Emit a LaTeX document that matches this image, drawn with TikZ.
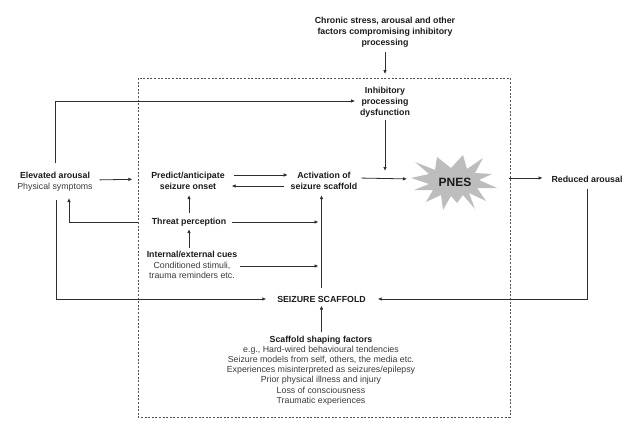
\documentclass[tikz,border=0pt]{standalone}
\usepackage{fontspec}
\setmainfont{Liberation Sans}
\usetikzlibrary{arrows.meta}
\definecolor{txtcol}{HTML}{1A1A1A}
\definecolor{regcol}{HTML}{3A3A3A}
\definecolor{lncol}{HTML}{2E2E2E}
\definecolor{boxcol}{HTML}{555555}
\definecolor{starfill}{HTML}{BDBDBD}
\begin{document}
\begin{tikzpicture}[x=1pt,y=-1pt,
  every node/.style={inner sep=0pt, outer sep=0pt, align=center, text=txtcol,
    font=\fontsize{8.8}{10.8}\selectfont},
  ttl/.style={font=\fontsize{8.8}{10.8}\selectfont\bfseries},
  lst/.style={font=\fontsize{8.8}{10.2}\selectfont},
  arr/.style={draw=lncol, line width=0.8pt, -{Latex[length=4pt,width=3.6pt]}},
  boxst/.style={draw=boxcol, line width=0.6pt, dash pattern=on 2pt off 1.6pt}]
\useasboundingbox (0,0) rectangle (637,433);

% dashed frame
\draw[boxst] (138,78) rectangle (510,417);

% nodes
\node[ttl] (chronic) at (385,32) {Chronic stress, arousal and other\\factors compromising inhibitory\\processing};
\node[ttl] (inhib) at (385,102) {Inhibitory\\processing\\dysfunction};
\node (elev) at (55,182) {\textbf{Elevated arousal}\\\color{regcol}Physical symptoms};
\node[ttl] (predict) at (188,181) {Predict/anticipate\\seizure onset};
\node[ttl] (act) at (324,181) {Activation of\\seizure scaffold};
\node[ttl] (threat) at (189,222) {Threat perception};
\node (cues) at (192,265) {\textbf{Internal/external cues}\\\color{regcol}Conditioned stimuli,\\\color{regcol}trauma reminders etc.};
\node[ttl] (seiz) at (321.5,299) {SEIZURE SCAFFOLD};
\node[lst] (factors) at (321,370.5) {\textbf{Scaffold shaping factors}\\
  \color{regcol}e.g., Hard-wired behavioural tendencies\\
  \color{regcol}Seizure models from self, others, the media etc.\\
  \color{regcol}Experiences misinterpreted as seizures/epilepsy\\
  \color{regcol}Prior physical illness and injury\\
  \color{regcol}Loss of consciousness\\
  \color{regcol}Traumatic experiences};
\node[ttl] (red) at (587,179) {Reduced arousal};

% PNES starburst
\coordinate (pc) at (455,182);
\begin{scope}[shift={(pc)}]
\fill[starfill] (-40,-20) -- (-20,-12) -- (-18,-25) -- (-4,-14) -- (8,-27) -- (12,-13)
  -- (28,-24) -- (20,-9) -- (37,-8) -- (24,-2) -- (42,6) -- (22,6) -- (31,19)
  -- (14,11) -- (20,27) -- (8,13) -- (2,21) -- (-4,14) -- (-12,28) -- (-14,13)
  -- (-29,20) -- (-22,8) -- (-41,8) -- (-26,2) -- (-44,-4) -- (-26,-8) -- cycle;
\end{scope}
\node[font=\fontsize{12}{14}\selectfont\bfseries, minimum width=84pt, minimum height=54pt] (pnes) at (pc) {PNES};

% connectors
\draw[arr, shorten <=5pt, shorten >=13pt] (chronic.south) -- (inhib.north);
\draw[arr, shorten >=5pt] ([yshift=9pt]elev.north) |- ([yshift=1pt]inhib.west);
\draw[arr, shorten <=7pt, shorten >=19pt] ([yshift=2pt]elev.east) -- ([yshift=2pt]predict.west);
\draw[arr, shorten <=9pt, shorten >=3pt] ([yshift=6pt]predict.east) -- ([yshift=6pt]act.west);
\draw[arr, shorten <=7pt, shorten >=7pt] ([yshift=-5pt]act.west) -- ([yshift=-5pt]predict.east);
\draw[arr, shorten <=4.5pt, shorten >=5.5pt] (threat.north) -- (threat.north |- predict.south);
\draw[arr, shorten <=3pt, shorten >=3pt] (threat.south |- cues.north) -- (threat.south);
\draw[arr, shorten <=6pt, shorten >=3pt] (threat.east) -- (threat.east -| seiz.north);
\draw[arr, shorten <=3pt, shorten >=3pt] ([yshift=-1pt]cues.east) -- ([yshift=-1pt]cues.east -| seiz.north);
\draw[arr, shorten <=7.5pt, shorten >=5.5pt] (seiz.north) -- (seiz.north |- act.south);
\draw[arr, shorten <=3.5pt, shorten >=3.5pt] (seiz.south |- factors.north) -- (seiz.south);
\draw[arr, shorten <=4pt, shorten >=6pt] ([yshift=3pt]act.east) -- ([yshift=3pt]pnes.west);
\draw[arr, shorten <=3pt, shorten >=10pt] (inhib.south) -- (inhib.south |- act.east);
\draw[arr, shorten <=12pt, shorten >=9pt] ([yshift=4pt]pnes.east) -- ([yshift=1pt]red.west);
\draw[arr, shorten <=6.5pt, shorten >=12pt] (red.south) |- (seiz.east);
\draw[arr, shorten <=8pt, shorten >=11pt] ([xshift=1pt]elev.south) |- (seiz.west);
\draw[arr, shorten >=6.5pt] ([xshift=-14pt]threat.west) -| ([xshift=14pt]elev.south);
\end{tikzpicture}
\end{document}
